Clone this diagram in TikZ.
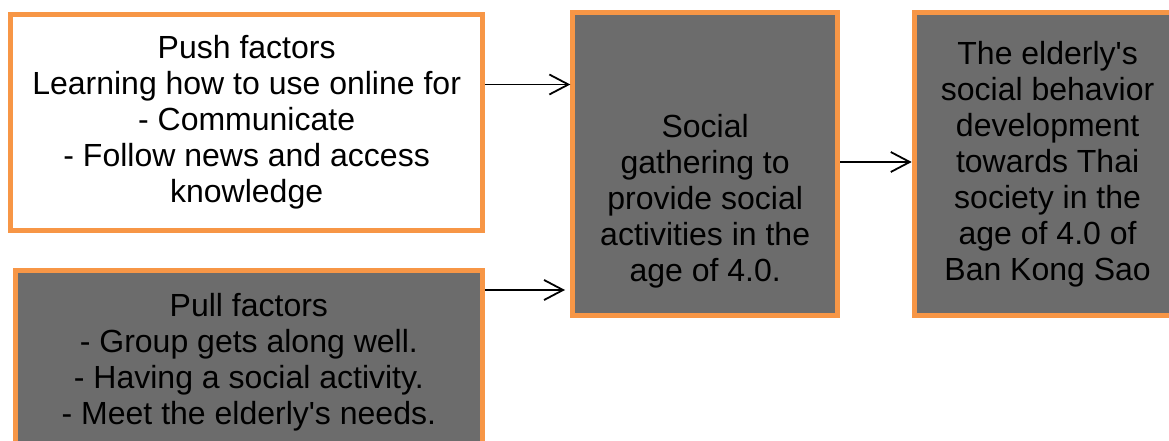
\documentclass[tikz,border=0pt]{standalone}
\usepackage{fontspec}
\setmainfont{Liberation Sans}
\usetikzlibrary{arrows.meta}
\definecolor{boxorange}{HTML}{F79646}
\definecolor{boxgray}{HTML}{6C6C6C}
\tikzset{
  flowbox/.style={draw=boxorange, line width=5pt, inner sep=0pt, align=center,
    font=\fontsize{32pt}{36pt}\selectfont, text=black},
  whitebox/.style={flowbox, fill=white},
  graybox/.style={flowbox, fill=boxgray},
  conn/.style={draw=black, line width=1.8pt, -{Straight Barb[length=19pt, width=20pt, line width=1.8pt]}}
}
\begin{document}
\begin{tikzpicture}[x=1pt, y=-1pt]
\useasboundingbox (0,0) rectangle (1169,441);
\clip (0,0) rectangle (1169,441);
\fill[white] (0,0) rectangle (1169,441);

\node[whitebox, minimum width=471.7pt, minimum height=216.2pt] (push) at (246.65,122.5)
  {Push factors\\Learning how to use online for\\- Communicate\\- Follow news and access\\knowledge};
\node[graybox, minimum width=467.3pt, minimum height=182.5pt] (pull) at (248.85,361.75)
  {Pull factors\\- Group gets along well.\\- Having a social activity.\\- Meet the elderly\textquotesingle s needs.};
\node[graybox, minimum width=264.7pt, minimum height=302.4pt] (social) at (705.15,164)
  {\strut\\\strut\\Social\\gathering to\\provide social\\activities in the\\age of 4.0.};
\node[graybox, minimum width=266.8pt, minimum height=302.4pt] (elder) at (1047.6,164)
  {The elderly\textquotesingle s\\social behavior\\development\\towards Thai\\society in the\\age of 4.0 of\\Ban Kong Sao};

\coordinate (a1) at (0,84.5);
\coordinate (a2end) at (565,290);
\coordinate (a3) at (0,162);

\draw[conn] (push.east |- a1) -- (social.west |- a1);
\draw[conn] (pull.east |- a2end) -- (a2end);
\draw[conn] (social.east |- a3) -- (elder.west |- a3);
\end{tikzpicture}
\end{document}
